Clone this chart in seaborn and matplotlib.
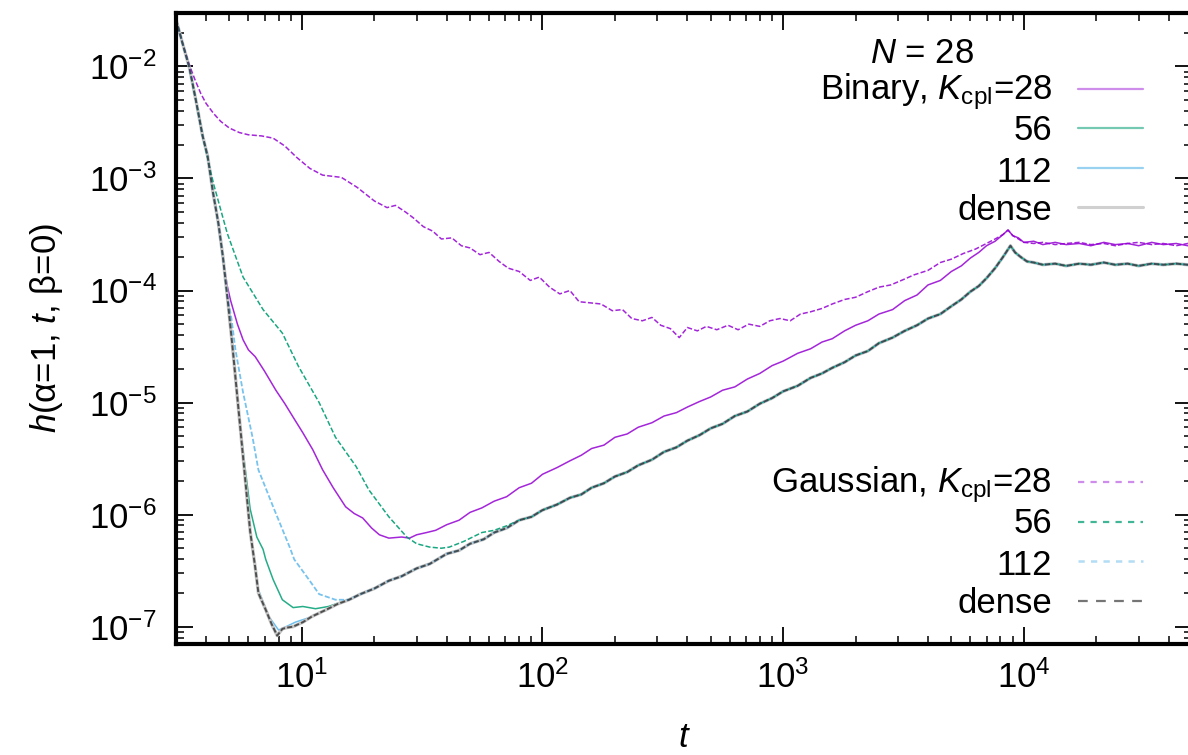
import numpy as np
import pandas as pd
import matplotlib
matplotlib.use("Agg")
import matplotlib.pyplot as plt
import seaborn as sns
from matplotlib.lines import Line2D
from matplotlib.ticker import LogLocator, NullFormatter, LogFormatterSciNotation

# ---------------- data (values are log10 h) ----------------
# common early steep descent (dense system)
dense_t = [3.0, 3.2, 3.41, 3.65, 3.87, 4.06, 4.27, 4.5, 4.7, 4.9, 5.15, 5.45, 5.75, 6.1, 6.4, 6.6,
           7.08, 7.5, 7.9, 8.3, 8.6, 9.2, 10.1, 11.0, 12.6, 14.0, 15.7, 17.5]
dense_logh = [-1.58, -1.80, -2.01, -2.33, -2.62, -2.80, -3.12, -3.40, -3.70, -4.05, -4.50, -5.05, -5.57, -6.15, -6.47, -6.70,
              -6.85, -6.98, -7.08, -7.02, -7.01, -7.00, -6.96, -6.91, -6.85, -6.80, -6.76, -6.71]

# shared long-time part of the converged bundle
bundle_t = [20, 23, 26, 30, 34, 40, 45, 50, 57, 63, 71, 80, 90, 100, 115, 130, 145, 160, 180, 200, 225, 250,
            285, 320, 360, 400, 450, 500, 560, 630, 710, 800, 900, 1000, 1150, 1300, 1450, 1600, 1800, 2000,
            2250, 2500, 2850, 3200, 3600, 4000, 4500, 5000, 5500, 6000, 6500, 7000, 7600, 8200, 8800, 9200,
            9700, 10300, 11000, 12000, 13500, 15000, 17000, 19000, 21500, 24000, 27000, 30000, 34000, 38000,
            43000, 48000, 50000]
bundle_logh = [-6.66, -6.59, -6.55, -6.48, -6.44, -6.35, -6.32, -6.26, -6.22, -6.16, -6.12, -6.05, -6.02, -5.96,
               -5.91, -5.85, -5.82, -5.76, -5.72, -5.66, -5.62, -5.56, -5.51, -5.44, -5.40, -5.34, -5.29, -5.23,
               -5.19, -5.12, -5.08, -5.01, -4.96, -4.90, -4.85, -4.78, -4.74, -4.69, -4.64, -4.58, -4.54, -4.47,
               -4.42, -4.36, -4.31, -4.25, -4.21, -4.14, -4.08, -4.01, -3.96, -3.89, -3.80, -3.70, -3.60, -3.66,
               -3.70, -3.74, -3.75, -3.77, -3.76, -3.78, -3.76, -3.77, -3.75, -3.77, -3.76, -3.78, -3.76, -3.77,
               -3.76, -3.77, -3.76]

# Binary, K_cpl = 28
bin28_t = [3.0, 3.2, 3.41, 3.65, 3.87, 4.06, 4.27, 4.5, 4.69, 4.9, 5.06, 5.4, 5.7, 6.0, 6.4, 7.0, 7.8, 8.5,
           9.2, 10.1, 11.1, 12.2, 13.5, 15.2, 16.5, 17.9, 19.5, 21, 23,
           26, 28, 30, 33, 36, 40, 45, 50, 56, 63, 71, 80, 90, 100, 115, 130, 145, 160, 180, 200, 225, 250,
           285, 320, 360, 400, 450, 500, 560, 630, 710, 800, 900, 1000, 1150, 1300, 1450, 1600, 1800, 2000,
           2250, 2500, 2850, 3200, 3600, 4000, 4500, 5000, 5500, 6000, 6500, 7000, 7600, 8200, 8600, 9000,
           9500, 10000, 11000, 12000, 13500, 15000, 17000, 19000, 21500, 24000, 27000, 30000, 34000, 38000,
           43000, 48000, 50000]
bin28_logh = [-1.58, -1.80, -2.01, -2.33, -2.62, -2.80, -3.12, -3.40, -3.70, -3.96, -4.09, -4.30, -4.44, -4.53,
              -4.59, -4.72, -4.89, -5.01, -5.13, -5.27, -5.42, -5.60, -5.76, -5.93, -5.99, -6.03, -6.12, -6.18,
              -6.21,
              -6.20, -6.21, -6.18, -6.16, -6.14, -6.09, -6.05, -5.98, -5.94, -5.88, -5.84, -5.76, -5.72, -5.64,
              -5.58, -5.52, -5.47, -5.41, -5.38, -5.31, -5.28, -5.22, -5.18, -5.12, -5.09, -5.04, -4.99, -4.95,
              -4.89, -4.86, -4.79, -4.74, -4.67, -4.63, -4.56, -4.52, -4.46, -4.43, -4.36, -4.31, -4.27, -4.21,
              -4.17, -4.09, -4.04, -3.95, -3.91, -3.83, -3.78, -3.71, -3.66, -3.60, -3.56, -3.50, -3.46, -3.51,
              -3.53, -3.57, -3.56, -3.59, -3.57, -3.59, -3.58, -3.60, -3.57, -3.59, -3.58, -3.60, -3.57, -3.59,
              -3.58, -3.60, -3.59]

# Binary, K_cpl = 56 (early part, then the bundle)
bin56_t = [3.0, 3.2, 3.41, 3.65, 3.87, 4.06, 4.27, 4.5, 4.7, 4.9, 5.15, 5.45, 5.75, 6.1, 6.5, 6.9, 7.08, 7.6,
           8.3, 9.2, 10.1, 11.4, 12.9, 14.6, 15.7, 17.5]
bin56_logh = [-1.58, -1.80, -2.01, -2.33, -2.62, -2.80, -3.12, -3.40, -3.70, -4.05, -4.50, -5.05, -5.50, -5.95,
              -6.20, -6.31, -6.40, -6.58, -6.76, -6.83, -6.82, -6.84, -6.82, -6.78, -6.76, -6.71]

# Binary, K_cpl = 112
bin112_t = [3.0, 3.2, 3.41, 3.65, 3.87, 4.06, 4.27, 4.5, 4.7, 4.9, 5.15, 5.45, 5.75, 6.1, 6.4, 6.6, 7.3, 8.0,
            8.6, 9.4, 10.7, 12.6, 14.0, 15.7, 17.5]
bin112_logh = [-1.58, -1.80, -2.01, -2.33, -2.62, -2.80, -3.12, -3.40, -3.70, -4.05, -4.50, -5.05, -5.57, -6.15,
               -6.45, -6.67, -6.91, -7.03, -7.00, -6.96, -6.92, -6.85, -6.80, -6.76, -6.71]

# Gaussian, K_cpl = 28
gau28_t = [3.0, 3.2, 3.4, 3.6, 3.8, 4.0, 4.3, 4.6, 5.0, 5.5, 6.0, 6.8, 7.6, 8.5, 9.5, 10.8, 12.2, 14.6, 17, 20,
           22.6, 24.5, 27, 29, 32, 35, 38, 42, 46, 50, 55, 60, 66, 72, 80, 89, 97, 107, 118, 130, 142, 158, 175,
           195, 215, 235, 260, 285, 310, 340, 370, 400, 440, 480, 530, 590, 650, 720, 800, 880, 970, 1070, 1180,
           1300, 1450, 1600, 1800, 2000, 2250, 2500, 2800, 3100, 3500, 4000, 4500, 5000, 5600, 6300, 7000, 7600,
           8200, 8600, 9000, 9500, 10000, 11000, 12000, 13500, 15000, 17000, 19000, 21500, 24000, 27000, 30000,
           34000, 38000, 43000, 48000, 50000]
gau28_logh = [-1.58, -1.80, -1.98, -2.12, -2.24, -2.33, -2.42, -2.49, -2.55, -2.59, -2.61, -2.62, -2.64, -2.71,
              -2.81, -2.91, -2.97, -2.99, -3.08, -3.20, -3.26, -3.24, -3.30, -3.35, -3.43, -3.47, -3.54, -3.53,
              -3.60, -3.62, -3.68, -3.66, -3.74, -3.80, -3.83, -3.91, -3.88, -3.97, -4.03, -4.00, -4.10, -4.11,
              -4.12, -4.18, -4.17, -4.25, -4.27, -4.24, -4.31, -4.34, -4.42, -4.33, -4.36, -4.32, -4.35, -4.31,
              -4.35, -4.30, -4.32, -4.27, -4.25, -4.27, -4.21, -4.19, -4.16, -4.12, -4.08, -4.06, -4.01, -3.97,
              -3.95, -3.91, -3.86, -3.82, -3.75, -3.72, -3.67, -3.63, -3.58, -3.54, -3.50, -3.46, -3.51, -3.54,
              -3.57, -3.58, -3.57, -3.59, -3.58, -3.57, -3.59, -3.58, -3.60, -3.58, -3.57, -3.59, -3.58, -3.60,
              -3.58, -3.58]

# Gaussian, K_cpl = 56 (early part, then the bundle from t = 90)
gau56_t = [3.0, 3.2, 3.41, 3.65, 3.87, 4.06, 4.3, 4.9, 5.7, 6.9, 8.3, 9.7, 11.8, 13.8, 16.8, 19, 23, 27.3, 30,
           34, 38, 41, 47, 56, 63, 71, 80]
gau56_logh = [-1.58, -1.80, -2.01, -2.33, -2.62, -2.82, -3.05, -3.49, -3.88, -4.17, -4.38, -4.68, -5.00, -5.31,
              -5.57, -5.78, -6.02, -6.20, -6.26, -6.29, -6.30, -6.29, -6.24, -6.16, -6.14, -6.10, -6.05]

# Gaussian, K_cpl = 112
gau112_t = [3.0, 3.2, 3.41, 3.65, 3.87, 4.06, 4.27, 4.5, 4.7, 4.9, 5.1, 5.3, 5.7, 6.24, 6.6, 7.6, 8.9, 9.3,
            10.7, 11.8, 13.8, 15.7, 17.5]
gau112_logh = [-1.58, -1.80, -2.01, -2.33, -2.62, -2.80, -3.12, -3.40, -3.70, -4.05, -4.25, -4.53, -4.91, -5.31,
               -5.60, -5.93, -6.29, -6.40, -6.58, -6.71, -6.76, -6.76, -6.71]

# ---------------- style ----------------
sns.set_theme(style="ticks")
plt.rcParams["font.family"] = ["Liberation Sans", "DejaVu Sans"]
plt.rcParams["mathtext.fontset"] = "custom"
plt.rcParams["mathtext.rm"] = "Liberation Sans"
plt.rcParams["mathtext.it"] = "Liberation Sans:italic"
plt.rcParams["axes.unicode_minus"] = False
plt.rcParams["lines.scale_dashes"] = False
for k in ["text.color", "axes.labelcolor", "xtick.color", "ytick.color", "axes.edgecolor"]:
    plt.rcParams[k] = "black"

FS = 25
PURPLE = "#9400d3"
GREEN = "#009e73"
BLUE = "#56b4e9"
GRAY = "#c4c4c4"
DARK = "#3a3a3a"

W, H = 1188, 755
fig = plt.figure(figsize=(W / 100, H / 100), dpi=100)
L, R, T, B = 176, 1192, 13, 644
ax = fig.add_axes([L / W, 1 - B / H, (R - L) / W, (B - T) / H])


def series(t_early, logh_early, use_bundle_from=None):
    t = list(t_early)
    lh = list(logh_early)
    if use_bundle_from is not None:
        for tt, ll in zip(bundle_t, bundle_logh):
            if tt >= use_bundle_from:
                t.append(tt)
                lh.append(ll)
    return pd.DataFrame({"t": t, "h": np.power(10.0, lh)})


specs = [
    (series(bin28_t, bin28_logh), PURPLE, 1.1, None, 0.85),
    (series(bin56_t, bin56_logh, 20), GREEN, 1.1, None, 0.85),
    (series(bin112_t, bin112_logh, 20), BLUE, 1.1, None, 0.85),
    (series(dense_t, dense_logh, 20), GRAY, 2.4, None, 1.0),
    (series(gau28_t, gau28_logh), PURPLE, 1.1, (4.0, 4.5), 0.85),
    (series(gau56_t, gau56_logh, 90), GREEN, 1.1, (3.5, 5.0), 0.9),
    (series(gau112_t, gau112_logh, 20), BLUE, 1.3, (3.5, 5.0), 0.8),
    (series(dense_t, dense_logh, 20), DARK, 1.4, (7.0, 4.0), 0.85),
]

for df, col, lw, dash, alpha in specs:
    kw = dict(data=df, x="t", y="h", ax=ax, color=col, lw=lw, alpha=alpha,
              estimator=None, sort=False, legend=False)
    if dash is not None:
        kw["dashes"] = dash
        kw["linestyle"] = "--"
    sns.lineplot(**kw)

ax.set_xscale("log")
ax.set_yscale("log")
ax.set_xlim(3, 5e4)
ax.set_ylim(7e-8, 3e-2)

ax.xaxis.set_major_locator(LogLocator(base=10, numticks=20))
ax.xaxis.set_minor_locator(LogLocator(base=10, subs=np.arange(2, 10), numticks=50))
ax.yaxis.set_major_locator(LogLocator(base=10, numticks=20))
ax.yaxis.set_minor_locator(LogLocator(base=10, subs=np.arange(2, 10), numticks=50))
ax.xaxis.set_major_formatter(LogFormatterSciNotation())
ax.yaxis.set_major_formatter(LogFormatterSciNotation())
ax.xaxis.set_minor_formatter(NullFormatter())
ax.yaxis.set_minor_formatter(NullFormatter())

for s in ax.spines.values():
    s.set_linewidth(3.0)
    s.set_color("black")
ax.tick_params(which="both", direction="in", top=True, right=True, colors="black")
ax.tick_params(which="major", length=12.5, width=1.3, labelsize=FS)
ax.tick_params(which="minor", length=6, width=1.1)
ax.tick_params(axis="y", which="major", pad=14)
ax.tick_params(axis="x", which="major", pad=12)
ax.grid(False)

ax.set_xlabel(r"$t$", fontsize=FS)
ax.set_ylabel(r"$h$(α=1, $t$, β=0)", fontsize=FS)
ax.xaxis.label.set_va("baseline")
ax.xaxis.set_label_coords(0.5, (B - 747) / (B - T))
ax.yaxis.set_label_coords((65 - L) / (R - L), 0.5)


# ---------------- key (gnuplot-style, text right-aligned, sample on the right) ----------------
def fx(px):
    return px / W


def fy(py):
    return 1 - py / H


fig.text(fx(922), fy(63), r"$N$ = 28", fontsize=FS, ha="center", va="baseline")

key_rows = [
    (r"Binary, $K_{\mathrm{cpl}}$=28", 99, 89, PURPLE, 1.6, None, 0.45),
    ("56", 140, 128, GREEN, 1.6, None, 0.55),
    ("112", 182, 168, BLUE, 1.6, None, 0.6),
    ("dense", 220, 207, "#bdbdbd", 2.2, None, 0.7),
    (r"Gaussian, $K_{\mathrm{cpl}}$=28", 492, 482, PURPLE, 1.6, (4.5, 4.5), 0.45),
    ("56", 533, 522, GREEN, 1.6, (4.5, 4.5), 0.75),
    ("112", 575, 561, BLUE, 1.8, (4.5, 4.5), 0.45),
    ("dense", 613, 601, DARK, 1.6, (7.0, 6.0), 0.7),
]
for label, base, ly, col, lw, dash, alpha in key_rows:
    fig.text(fx(1052), fy(base), label, fontsize=FS, ha="right", va="baseline")
    ln = Line2D([fx(1078), fx(1143)], [fy(ly), fy(ly)], transform=fig.transFigure,
                color=col, lw=lw, alpha=alpha)
    if dash is not None:
        ln.set_linestyle("--")
        ln.set_dashes(dash)
    fig.add_artist(ln)

fig.savefig("out.png", dpi=100)
